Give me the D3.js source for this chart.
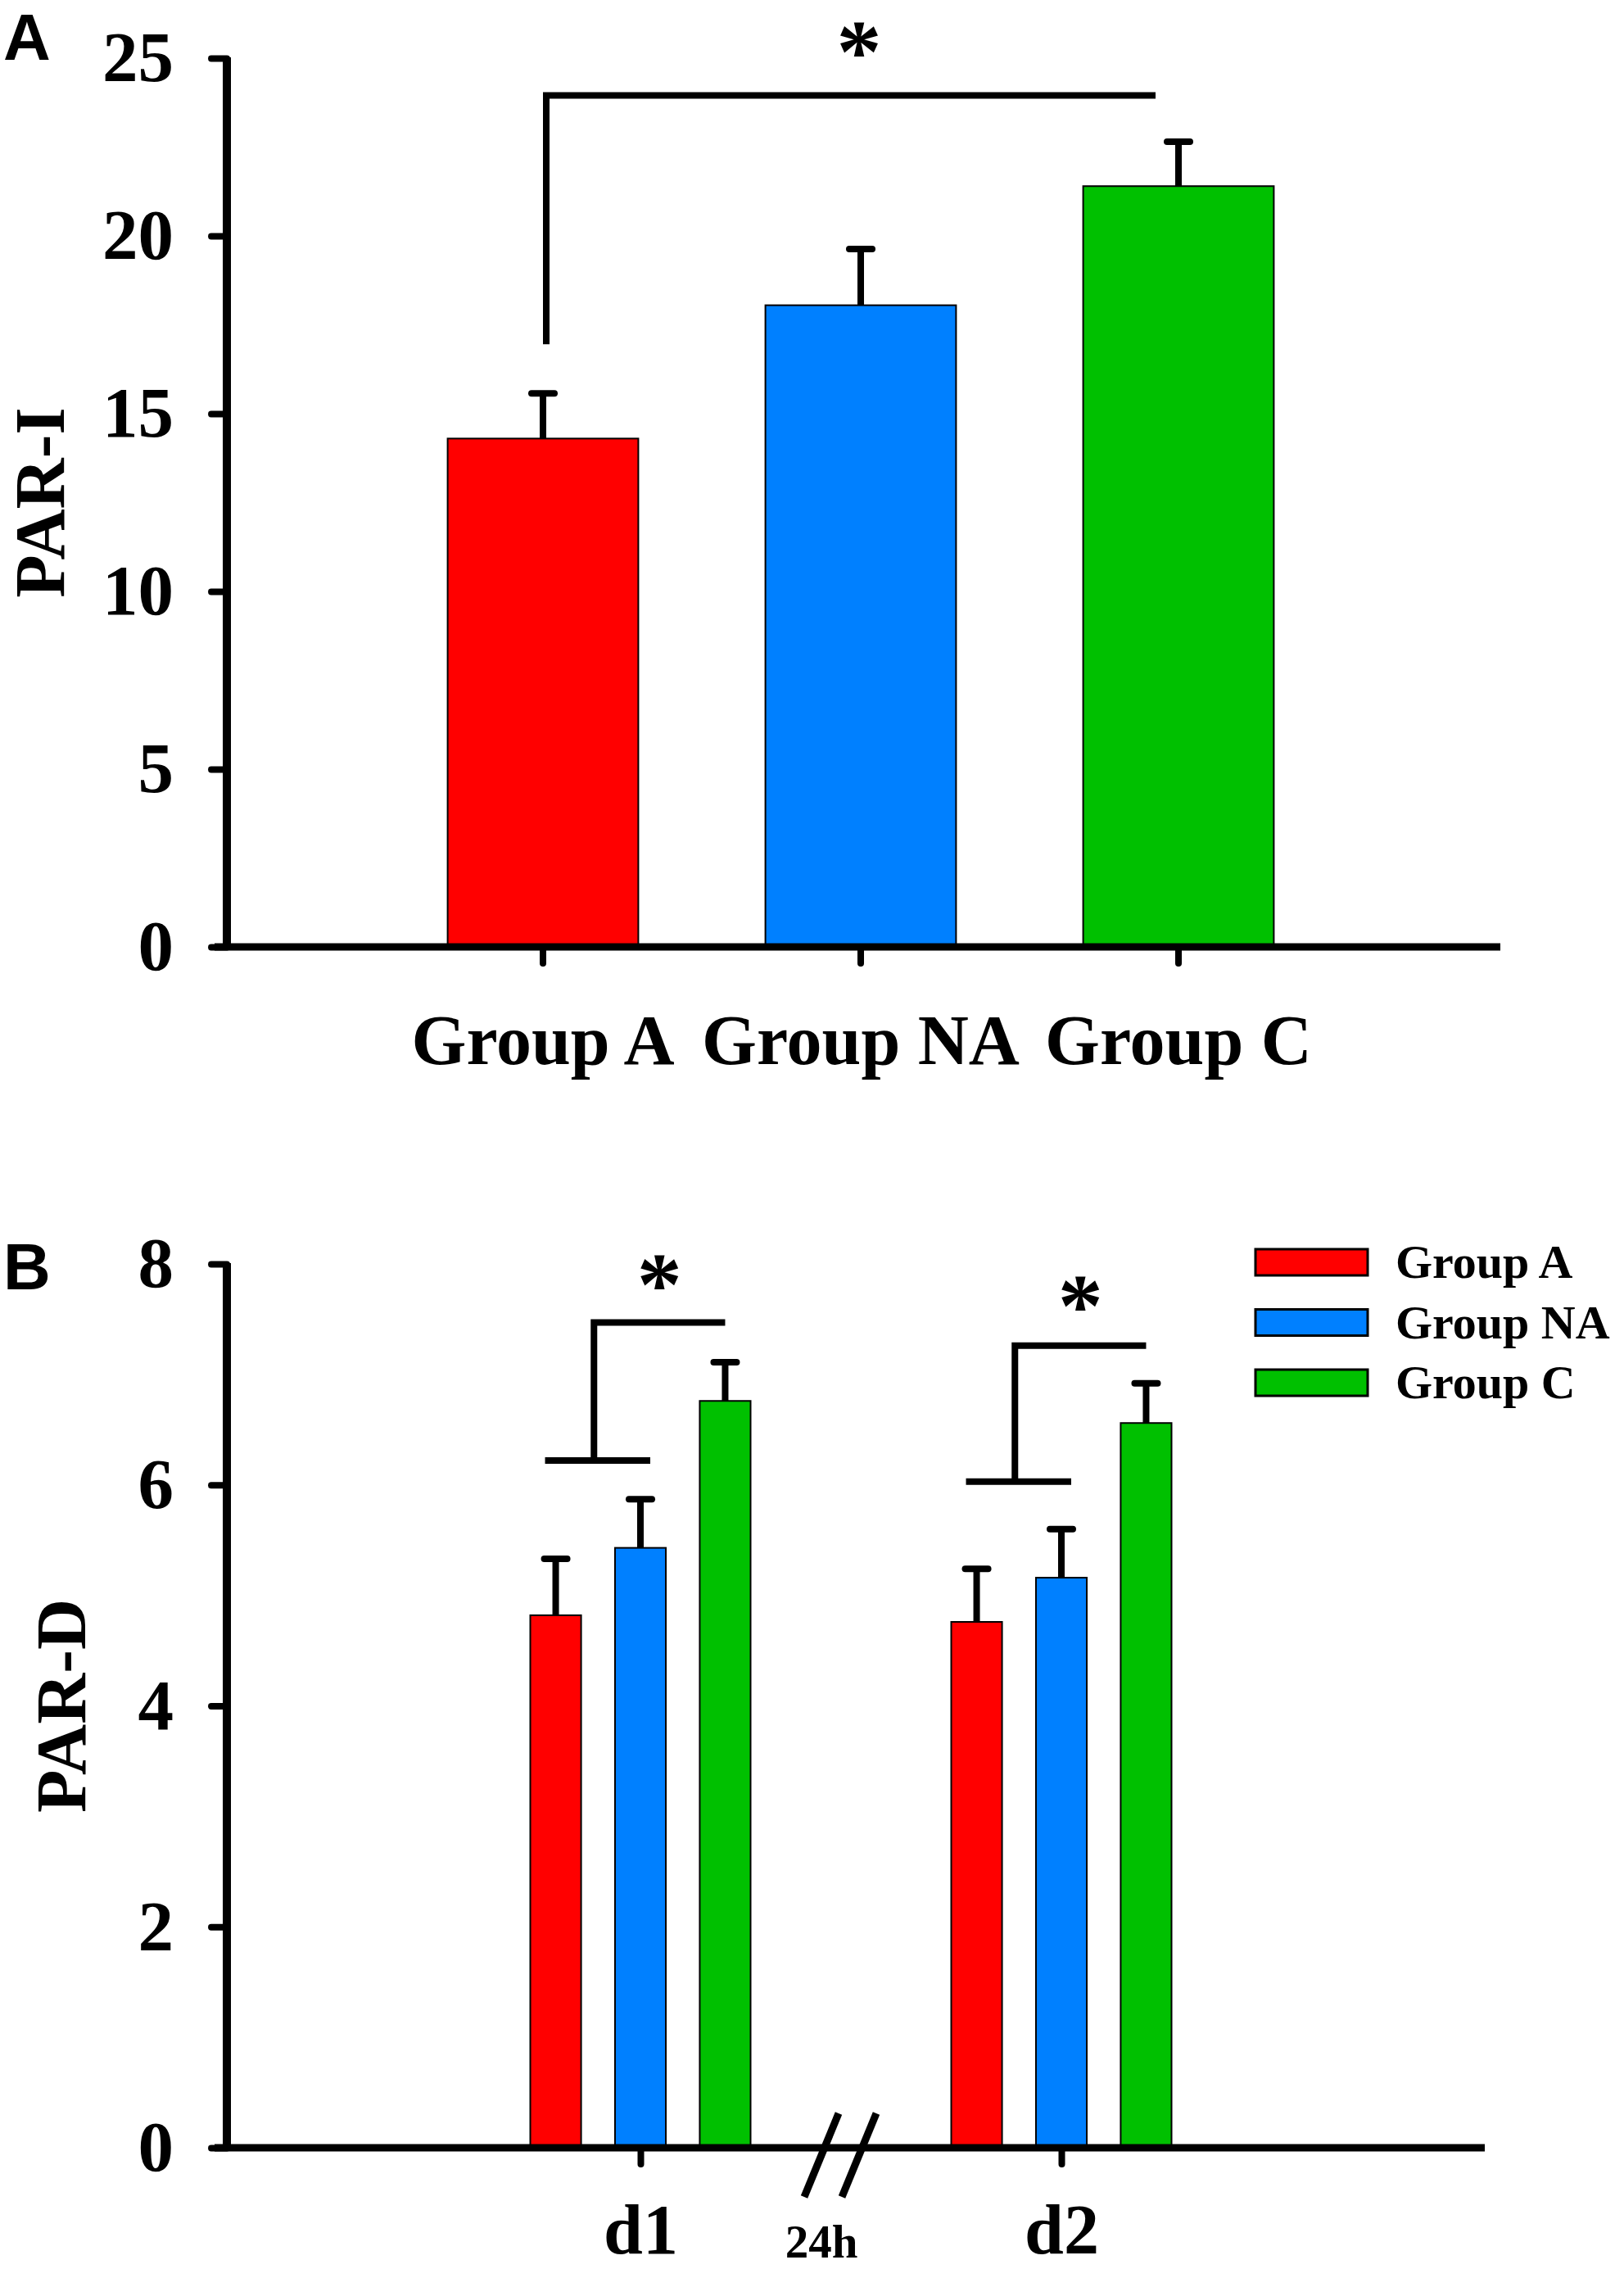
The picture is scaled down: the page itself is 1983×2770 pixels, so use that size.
<!DOCTYPE html>
<html>
<head>
<meta charset="utf-8">
<script src="https://cdn.jsdelivr.net/npm/d3@7"></script>
<style>
  body { margin: 0; background: #fff; }
  svg text { font-family: "Liberation Serif", "Times New Roman", serif; font-weight: bold; fill: #000; }
  svg text.panel { font-family: "Liberation Sans", Arial, sans-serif; }
</style>
</head>
<body>
<script>
// panel A: PAR-I per group
var groups = ['Group A', 'Group NA', 'Group C']
var parIMean = [14.3, 18.05, 21.4]
var parIErr = [1.27, 1.58, 1.25]
var yTicksA = [0, 5, 10, 15, 20, 25]
// bracket bottom, bracket top, star (A vs C)
var sigA = [16.95, 23.95, 25.55]

// panel B: PAR-D per day, one row per day, groups in order
var days = ['d1', 'd2']
var parDMean = [[4.82, 5.43, 6.76], [4.76, 5.16, 6.56]]
var parDErr = [[0.51, 0.44, 0.35], [0.48, 0.44, 0.36]]
var yTicksB = [0, 2, 4, 6, 8]
var sigB = [[6.22, 7.47, 7.93], [6.03, 7.26, 7.74]]

var colors = ['#ff0000', '#0080ff', '#00c000']

var svg = d3.select('body').append('svg')
  .attr('width', 1983)
  .attr('height', 2770)

function errorBar(g, cx, yTop, yErr) {
  g.append('line')
    .attr('x1', cx).attr('x2', cx)
    .attr('y1', yTop).attr('y2', yErr)
    .attr('stroke', '#000').attr('stroke-width', 8)
  g.append('line')
    .attr('x1', cx - 14).attr('x2', cx + 14)
    .attr('y1', yErr).attr('y2', yErr)
    .attr('stroke', '#000').attr('stroke-width', 8)
    .attr('stroke-linecap', 'round')
}

function star(g, x, y) {
  g.append('text')
    .attr('x', x)
    .attr('y', y + 53)
    .attr('text-anchor', 'middle')
    .attr('font-size', 110)
    .text('*')
}

function styleAxis(ax, size) {
  ax.select('.domain').remove()
  ax.selectAll('.tick line').attr('stroke', '#000').attr('stroke-width', 8).attr('stroke-linecap', 'round')
  ax.selectAll('.tick text').attr('font-size', size).attr('fill', '#000')
}

/* ---------- panel A ---------- */
var axisX = 277
var yA = d3.scaleLinear().domain([0, 25]).range([1156, 71])
var xA = d3.scaleBand().domain(groups).range([469, 1633]).paddingInner(0.4).paddingOuter(0.2)
var cA = function(g) { return xA(g) + xA.bandwidth() / 2 }

var gA = svg.append('g')

gA.selectAll('rect.bar')
  .data(groups)
  .enter().append('rect')
  .attr('class', 'bar')
  .attr('x', function(d) { return xA(d) })
  .attr('width', xA.bandwidth())
  .attr('y', function(d, i) { return yA(parIMean[i]) })
  .attr('height', function(d, i) { return yA(0) - yA(parIMean[i]) })
  .attr('fill', function(d, i) { return colors[i] })
  .attr('stroke', '#000')
  .attr('stroke-width', 2)

groups.forEach(function(g, i) {
  errorBar(gA, cA(g), yA(parIMean[i]), yA(parIMean[i] + parIErr[i]))
})

var yAxA = gA.append('g')
  .attr('transform', 'translate(' + axisX + ',0)')
  .call(d3.axisLeft(yA).tickValues(yTicksA).tickSize(19).tickPadding(46))
styleAxis(yAxA, 87)

var xAxA = gA.append('g')
  .attr('transform', 'translate(0,' + yA(0) + ')')
  .call(d3.axisBottom(xA).tickSize(20).tickPadding(62))
styleAxis(xAxA, 86)

gA.append('line')
  .attr('x1', axisX).attr('x2', axisX)
  .attr('y1', yA(25) - 1).attr('y2', yA(0))
  .attr('stroke', '#000').attr('stroke-width', 10)
gA.append('line')
  .attr('x1', 262).attr('x2', 1832)
  .attr('y1', yA(0)).attr('y2', yA(0))
  .attr('stroke', '#000').attr('stroke-width', 9)

// significance bracket A vs C
var bx0 = cA(groups[0]) + 4
var bx1 = cA(groups[2]) - 28
gA.append('path')
  .attr('d', 'M' + bx0 + ',' + yA(sigA[0]) + 'V' + yA(sigA[1]) + 'H' + bx1)
  .attr('fill', 'none').attr('stroke', '#000').attr('stroke-width', 8)
star(gA, (bx0 + bx1) / 2 + 10, yA(sigA[2]))

gA.append('text')
  .attr('transform', 'translate(78,' + (yA(0) + yA(25)) / 2 + ') rotate(-90)')
  .attr('text-anchor', 'middle')
  .attr('font-size', 86)
  .text('PAR-I')

gA.append('text')
  .attr('class', 'panel')
  .attr('x', 4).attr('y', 73)
  .attr('font-size', 80)
  .text('A')

/* ---------- panel B ---------- */
var yB = d3.scaleLinear().domain([0, 8]).range([2622, 1543])
var xB = d3.scalePoint().domain(days).range([782, 1296])
var xIn = d3.scaleBand().domain(groups).range([-134.5, 134.5]).paddingInner(0.4)
var cB = function(day, g) { return xB(day) + xIn(g) + xIn.bandwidth() / 2 }

var gB = svg.append('g')

days.forEach(function(day, di) {
  gB.selectAll('rect.bar' + day)
    .data(groups)
    .enter().append('rect')
    .attr('x', function(d) { return xB(day) + xIn(d) })
    .attr('width', xIn.bandwidth())
    .attr('y', function(d, i) { return yB(parDMean[di][i]) })
    .attr('height', function(d, i) { return yB(0) - yB(parDMean[di][i]) })
    .attr('fill', function(d, i) { return colors[i] })
    .attr('stroke', '#000')
    .attr('stroke-width', 2)

  groups.forEach(function(g, i) {
    errorBar(gB, cB(day, g), yB(parDMean[di][i]), yB(parDMean[di][i] + parDErr[di][i]))
  })

  // bracket: (A, NA) vs C
  var xl = cB(day, groups[0]) - 13
  var xr = cB(day, groups[1]) + 12
  var xv = (cB(day, groups[0]) + cB(day, groups[1])) / 2 - 5
  var xg = cB(day, groups[2])
  var s = sigB[di]
  gB.append('path')
    .attr('d', 'M' + xl + ',' + yB(s[0]) + 'H' + xr +
               'M' + xv + ',' + yB(s[0]) + 'V' + yB(s[1]) + 'H' + xg)
    .attr('fill', 'none').attr('stroke', '#000').attr('stroke-width', 8)
  star(gB, (xv + xg) / 2, yB(s[2]))
})

var yAxB = gB.append('g')
  .attr('transform', 'translate(' + axisX + ',0)')
  .call(d3.axisLeft(yB).tickValues(yTicksB).tickSize(19).tickPadding(46))
styleAxis(yAxB, 87)

var xAxB = gB.append('g')
  .attr('transform', 'translate(0,' + yB(0) + ')')
  .call(d3.axisBottom(xB).tickSize(20).tickPadding(48))
styleAxis(xAxB, 86)

gB.append('line')
  .attr('x1', axisX).attr('x2', axisX)
  .attr('y1', yB(8) - 1).attr('y2', yB(0))
  .attr('stroke', '#000').attr('stroke-width', 10)
gB.append('line')
  .attr('x1', 262).attr('x2', 1813)
  .attr('y1', yB(0)).attr('y2', yB(0))
  .attr('stroke', '#000').attr('stroke-width', 9)

// axis break between days
var mid = (xB('d1') + xB('d2')) / 2
;[-36, 10].forEach(function(dx) {
  var cx = mid + dx
  gB.append('line')
    .attr('x1', cx - 21).attr('y1', yB(0) + 60)
    .attr('x2', cx + 21).attr('y2', yB(0) - 42)
    .attr('stroke', '#000').attr('stroke-width', 9)
})
gB.append('text')
  .attr('x', mid - 36).attr('y', 2756)
  .attr('text-anchor', 'middle')
  .attr('font-size', 57)
  .text('24h')

gB.append('text')
  .attr('transform', 'translate(104,' + (yB(0) + yB(8)) / 2 + ') rotate(-90)')
  .attr('text-anchor', 'middle')
  .attr('font-size', 86)
  .text('PAR-D')

gB.append('text')
  .attr('class', 'panel')
  .attr('x', 4).attr('y', 1574)
  .attr('font-size', 80)
  .text('B')

// legend
var legend = gB.append('g').attr('transform', 'translate(1533,1525)')
groups.forEach(function(g, i) {
  legend.append('rect')
    .attr('x', 0).attr('y', i * 73.5)
    .attr('width', 137).attr('height', 32)
    .attr('fill', colors[i])
    .attr('stroke', '#000').attr('stroke-width', 3)
  legend.append('text')
    .attr('x', 171).attr('y', i * 73.5 + 35)
    .attr('font-size', 58)
    .text(g)
})
</script>
</body>
</html>
